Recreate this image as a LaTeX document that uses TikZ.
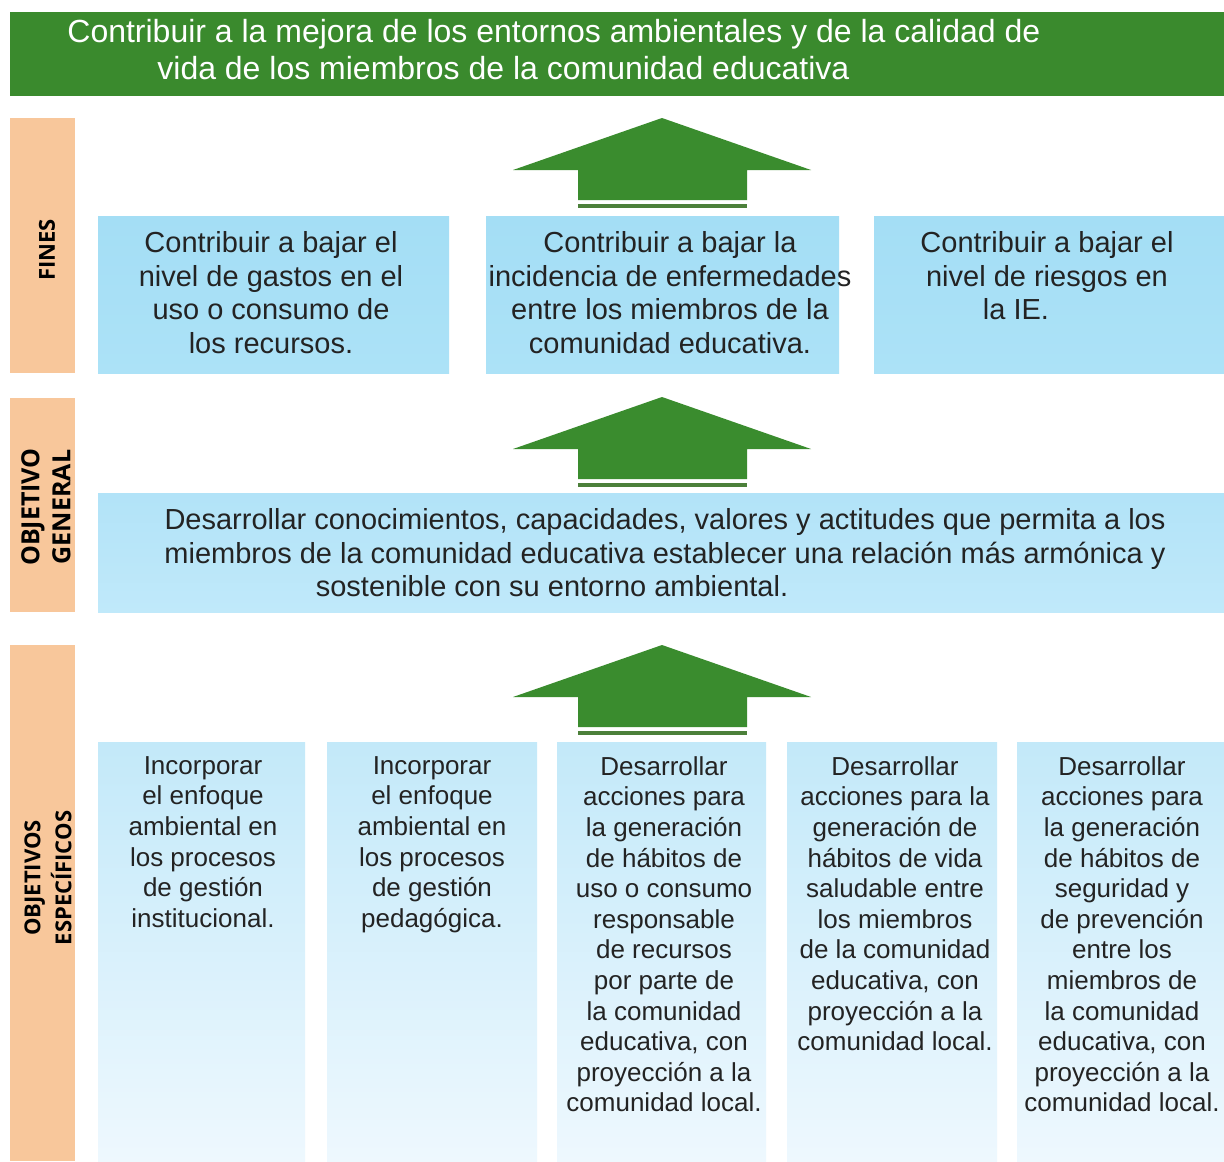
\documentclass[tikz,border=0pt]{standalone}
\usepackage{fontspec}
\setmainfont{Liberation Sans}
\newfontfamily\labelfont{Open Sans}
\definecolor{bannergreen}{RGB}{58,138,45}
\definecolor{arrowgreen}{RGB}{58,140,46}
\definecolor{arrowline}{RGB}{76,128,58}
\definecolor{sideorange}{RGB}{248,199,155}
\definecolor{finestop}{RGB}{164,222,245}
\definecolor{finesbot}{RGB}{172,226,247}
\definecolor{gentop}{RGB}{178,227,248}
\definecolor{genbot}{RGB}{192,233,250}
\definecolor{esptop}{RGB}{195,233,249}
\definecolor{espbot}{RGB}{238,248,254}
\definecolor{txt}{RGB}{35,35,35}
\begin{document}
\begin{tikzpicture}[x=0.5pt,y=-0.5pt,
  area/.style={inner sep=0pt,outer sep=0pt,anchor=north west},
  banner/.style={area,fill=bannergreen},
  side/.style={area,fill=sideorange},
  finesbox/.style={area,top color=finestop,bottom color=finesbot,minimum height=78.5pt},
  genbox/.style={area,top color=gentop,bottom color=genbot},
  espbox/.style={area,top color=esptop,bottom color=espbot,minimum height=209.5pt},
  sidelabel/.style={rotate=90,align=center,font=\labelfont\bfseries\fontsize{11}{15.5}\selectfont,text=black,inner sep=0pt},
  bigtxt/.style={align=center,anchor=north,inner sep=0pt,text=txt,font=\fontsize{14.5}{16.85}\selectfont},
  smalltxt/.style={align=center,anchor=north,inner sep=0pt,text=txt,font=\fontsize{13}{15.3}\selectfont},
  uparrow/.pic={
    \fill[arrowgreen] (0,0) -- (149,52) -- (85,52) -- (85,82) -- (-84,82) -- (-84,52) -- (-149,52) -- cycle;
    \fill[arrowline] (-84,86) rectangle (85,90);
  }
]
\useasboundingbox[fill=white] (0,0) rectangle (1224,1161);

% top banner
\node[banner,minimum width=607pt,minimum height=42pt] (top) at (10,12) {};
\node[anchor=north west,inner sep=0pt,align=left,text=white,font=\fontsize{16}{18.5}\selectfont] (toptxt) at (67,19)
  {Contribuir a la mejora de los entornos ambientales y de la calidad de\\\hspace*{45pt}vida de los miembros de la comunidad educativa};

% side labels
\node[side,minimum width=32.5pt,minimum height=127.5pt] (sfines) at (10,118) {};
\node[side,minimum width=32.5pt,minimum height=107pt] (sgen) at (10,398) {};
\node[side,minimum width=32.5pt,minimum height=258pt] (sesp) at (10,645) {};
\node[sidelabel] (lfines) at (47,250) {FINES};
\node[sidelabel,font=\labelfont\bfseries\fontsize{12.5}{15.5}\selectfont] (lgen) at (46,507) {OBJETIVO\\GENERAL};
\node[sidelabel] (lesp) at (48,878) {OBJETIVOS\\ESPECÍFICOS};

% fines
\node[finesbox,minimum width=175.5pt] (f1) at (98,216) {};
\node[finesbox,minimum width=176.5pt] (f2) at (486,216) {};
\node[finesbox,minimum width=175pt] (f3) at (874,216) {};
\node[bigtxt] (t1) at (271,231) {Contribuir a bajar el\\nivel de gastos en el\\uso o consumo de\\los recursos.};
\node[bigtxt] (t2) at (670,231) {Contribuir a bajar la\\incidencia de enfermedades\\entre los miembros de la\\comunidad educativa.};
\node[bigtxt] (t3) at (1047,231) {Contribuir a bajar el\\nivel de riesgos en\\la IE.\hspace*{31pt}};

% general
\node[genbox,minimum width=563pt,minimum height=59.5pt] (gen) at (98,493) {};
\node[bigtxt] (tg) at (665,508) {Desarrollar conocimientos, capacidades, valores y actitudes que permita a los\\miembros de la comunidad educativa establecer una relación más armónica y\\sostenible con su entorno ambiental.\hspace*{113pt}};

% especificos
\node[espbox,minimum width=103.5pt] (e1) at (98,742) {};
\node[espbox,minimum width=105pt] (e2) at (327,742) {};
\node[espbox,minimum width=104.5pt] (e3) at (557,742) {};
\node[espbox,minimum width=105pt] (e4) at (787,742) {};
\node[espbox,minimum width=103.5pt] (e5) at (1017,742) {};
\node[smalltxt] (s1) at (203,756) {Incorporar\\el enfoque\\ambiental en\\los procesos\\de gestión\\institucional.};
\node[smalltxt] (s2) at (432,756) {Incorporar\\el enfoque\\ambiental en\\los procesos\\de gestión\\pedagógica.};
\node[smalltxt] (s3) at (664,756) {Desarrollar\\acciones para\\la generación\\de hábitos de\\uso o consumo\\responsable\\de recursos\\por parte de\\la comunidad\\educativa, con\\proyección a la\\comunidad local.};
\node[smalltxt] (s4) at (895,756) {Desarrollar\\acciones para la\\generación de\\hábitos de vida\\saludable entre\\los miembros\\de la comunidad\\educativa, con\\proyección a la\\comunidad local.};
\node[smalltxt] (s5) at (1122,756) {Desarrollar\\acciones para\\la generación\\de hábitos de\\seguridad y\\de prevención\\entre los\\miembros de\\la comunidad\\educativa, con\\proyección a la\\comunidad local.};

% arrows
\pic at (662,118) {uparrow};
\pic at (662,397) {uparrow};
\pic at (662,645) {uparrow};
\end{tikzpicture}
\end{document}
